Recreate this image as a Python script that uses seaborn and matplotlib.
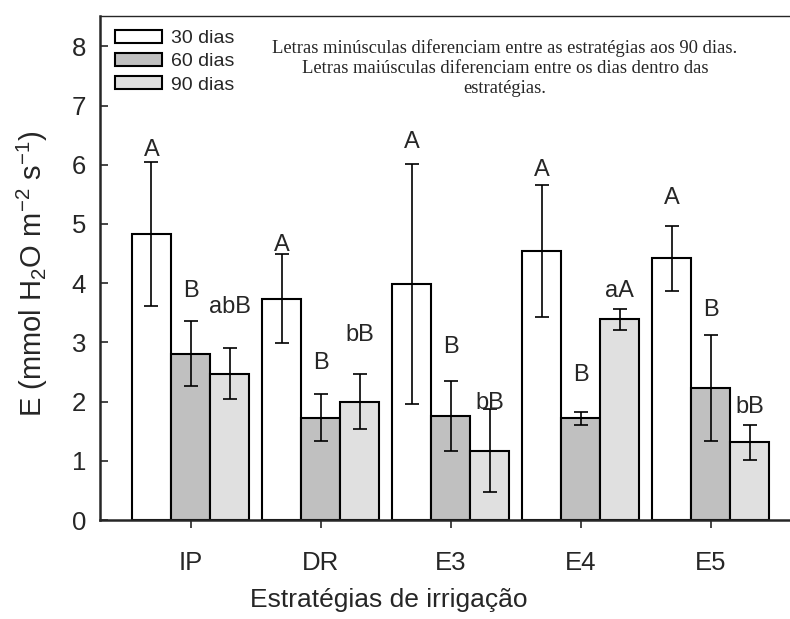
import numpy as np
import pandas as pd
import matplotlib
matplotlib.use("Agg")
import matplotlib.pyplot as plt
import seaborn as sns
from matplotlib.patches import Patch

sns.set_style("ticks")
plt.rcParams["font.family"] = ["Liberation Sans", "DejaVu Sans"]
plt.rcParams["mathtext.fontset"] = "custom"
plt.rcParams["mathtext.rm"] = "Liberation Sans"
plt.rcParams["mathtext.it"] = "Liberation Sans:italic"

# data
estrategias = ["IP", "DR", "E3", "E4", "E5"]
dias = ["30 dias", "60 dias", "90 dias"]
e_30 = [4.83, 3.74, 3.99, 4.54, 4.42]
e_60 = [2.81, 1.73, 1.76, 1.72, 2.23]
e_90 = [2.47, 2.00, 1.17, 3.39, 1.31]
err_30 = [1.22, 0.75, 2.03, 1.12, 0.55]
err_60 = [0.55, 0.39, 0.59, 0.11, 0.89]
err_90 = [0.43, 0.47, 0.70, 0.18, 0.30]
letras_30 = ["A", "A", "A", "A", "A"]
letras_60 = ["B", "B", "B", "B", "B"]
letras_90 = ["abB", "bB", "bB", "aA", "bB"]
# heights (in data units) where the letters sit
letra_y_30 = [6.25, 4.65, 6.39, 5.91, 5.44]
letra_y_60 = [3.86, 2.65, 2.93, 2.45, 3.55]
letra_y_90 = [3.60, 3.13, 1.98, 3.86, 1.90]

cores = ["#ffffff", "#c0c0c0", "#e0e0e0"]

df = pd.DataFrame({
    "estrategia": estrategias * 3,
    "dias": np.repeat(dias, len(estrategias)),
    "E": e_30 + e_60 + e_90,
})
erros = [err_30, err_60, err_90]
letras = [letras_30, letras_60, letras_90]
letras_y = [letra_y_30, letra_y_60, letra_y_90]

fig = plt.figure(figsize=(7.9, 6.19), dpi=100)
ax = fig.add_axes([100 / 790, 99 / 619, 690 / 790, 504.5 / 619])

sns.barplot(data=df, x="estrategia", y="E", hue="dias", palette=cores,
            edgecolor="black", linewidth=1.5, width=0.9, errorbar=None,
            saturation=1, legend=False, ax=ax)

for cont, err, lets, ly in zip(ax.containers, erros, letras, letras_y):
    xs = [b.get_x() + b.get_width() / 2 for b in cont]
    hs = [b.get_height() for b in cont]
    ax.errorbar(xs, hs, yerr=err, fmt="none", ecolor="black",
                elinewidth=1.2, capsize=4.7, capthick=1.2)
    for x, t, y in zip(xs, lets, ly):
        ax.text(x, y, t, ha="center", va="center", fontsize=17)

ax.set_xlim(-0.696, 4.61)
ax.set_ylim(0, 8.52)
ax.set_yticks(range(0, 9))
ax.tick_params(axis="y", direction="in", length=6, width=1.2, labelsize=18.5, pad=10)
ax.tick_params(axis="x", direction="out", length=6, width=1.2, labelsize=18.5, pad=16)
ax.set_xlabel("Estratégias de irrigação", fontsize=19)
ax.set_ylabel(r"E (mmol H$_2$O m$^{-2}$ s$^{-1}$)", fontsize=21)
ax.xaxis.set_label_coords(0.419, -0.135)
ax.yaxis.set_label_coords(-0.072, 0.488)

for s in ["left", "bottom"]:
    ax.spines[s].set_linewidth(1.8)
ax.spines["top"].set_linewidth(1.0)
ax.spines["right"].set_visible(False)

handles = [Patch(facecolor=c, edgecolor="black", linewidth=1.5) for c in cores]
ax.legend(handles, dias, loc="upper left", bbox_to_anchor=(0.0, 1.0),
          frameon=False, fontsize=14, handlelength=2.42, handleheight=0.62,
          handletextpad=0.5, labelspacing=0.31, borderaxespad=0.35)

ax.text(0.587, 0.896,
        "Letras minúsculas diferenciam entre as estratégias aos 90 dias.\n"
        "Letras maiúsculas diferenciam entre os dias dentro das\nestratégias.",
        transform=ax.transAxes, ha="center", va="center", fontsize=13.4,
        family=["Liberation Serif", "DejaVu Serif"], linespacing=1.2)

fig.savefig("out.png", dpi=100)
